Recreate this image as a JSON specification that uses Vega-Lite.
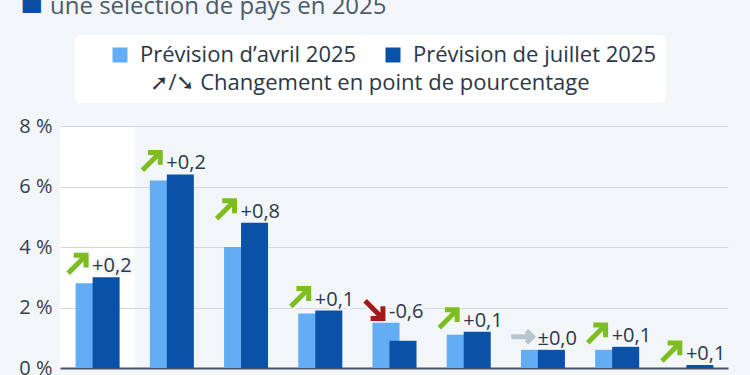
{
  "$schema": "https://vega.github.io/schema/vega-lite/v6.json",
  "width": 668,
  "height": 242,
  "autosize": {"type": "none"},
  "padding": {"left": 60, "top": 126, "right": 22, "bottom": 7},
  "background": "#f3f6f9",
  "title": {
    "text": "une sélection de pays en 2025",
    "anchor": "start",
    "frame": "group",
    "fontSize": 24,
    "font": "Open Sans",
    "fontWeight": "normal",
    "color": "#4b5a6b",
    "dx": -10,
    "dy": 52,
    "baseline": "alphabetic"
  },
  "config": {
    "font": "Open Sans",
    "view": {
      "stroke": null,
      "fill": {
        "gradient": "linear",
        "x1": 0, "x2": 1, "y1": 0, "y2": 0,
        "stops": [
          {"offset": 0, "color": "#ffffff"},
          {"offset": 0.1123, "color": "#ffffff"},
          {"offset": 0.1124, "color": "#f3f6f9"},
          {"offset": 1, "color": "#f3f6f9"}
        ]
      }
    }
  },
  "data": {
    "values": [
      {"pays": "Monde", "avril": 2.8, "juillet": 3.0, "label": "+0,2", "dir": "hausse"},
      {"pays": "Inde", "avril": 6.2, "juillet": 6.4, "label": "+0,2", "dir": "hausse"},
      {"pays": "Chine", "avril": 4.0, "juillet": 4.8, "label": "+0,8", "dir": "hausse"},
      {"pays": "États-Unis", "avril": 1.8, "juillet": 1.9, "label": "+0,1", "dir": "hausse"},
      {"pays": "Russie", "avril": 1.5, "juillet": 0.9, "label": "-0,6", "dir": "baisse"},
      {"pays": "Royaume-Uni", "avril": 1.1, "juillet": 1.2, "label": "+0,1", "dir": "hausse"},
      {"pays": "France", "avril": 0.6, "juillet": 0.6, "label": "±0,0", "dir": "stable"},
      {"pays": "Japon", "avril": 0.6, "juillet": 0.7, "label": "+0,1", "dir": "hausse"},
      {"pays": "Allemagne", "avril": 0.0, "juillet": 0.1, "label": "+0,1", "dir": "hausse"}
    ]
  },
  "transform": [
    {"calculate": "max(datum.avril, datum.juillet)", "as": "haut"}
  ],
  "encoding": {
    "x": {
      "field": "pays",
      "type": "nominal",
      "sort": null,
      "scale": {"paddingInner": 0, "paddingOuter": 0},
      "axis": {
        "title": null,
        "labels": false,
        "ticks": false,
        "domainColor": "#4a5568",
        "domainWidth": 2
      }
    }
  },
  "layer": [
    {
      "mark": {"type": "text", "align": "left", "baseline": "middle", "dx": -5, "dy": -11, "fontSize": 20, "stroke": "#f3f6f9", "strokeWidth": 6, "fill": "#f3f6f9", "strokeJoin": "round"},
      "encoding": {
        "y": {
          "field": "haut",
          "type": "quantitative",
          "scale": {"domain": [0, 8], "nice": false},
          "axis": {
            "values": [0, 1, 2, 3, 4, 5, 6, 7, 8],
            "labelExpr": "datum.value % 2 == 0 ? datum.value + ' %' : ''",
            "domain": false,
            "ticks": false,
            "gridColor": "#d2d8de",
            "gridWidth": 1,
            "labelFontSize": 20,
            "labelColor": "#333f4d",
            "labelPadding": 8,
            "title": "■",
            "titleAngle": 0,
            "titleFont": "DejaVu Sans",
            "titleFontSize": 24,
            "titleFontWeight": "normal",
            "titleColor": "#0b4ea2",
            "titleAlign": "left",
            "titleBaseline": "alphabetic",
            "titleX": -40,
            "titleY": -117
          }
        },
        "text": {"field": "label"}
      }
    },
    {
      "mark": {"type": "point", "filled": false, "xOffset": -20, "yOffset": -13, "size": 500, "strokeWidth": 9, "stroke": "#f3f6f9", "opacity": 1},
      "encoding": {
        "y": {"field": "haut", "type": "quantitative"},
        "shape": {
          "field": "dir",
          "type": "nominal",
          "scale": {
            "domain": ["hausse", "baisse", "stable"],
            "range": [
              "M -0.8 0.8 L 0.72 -0.72 M -0.3 -0.8 L 0.8 -0.8 L 0.8 0.3",
              "M -0.8 -0.8 L 0.72 0.72 M 0.8 -0.3 L 0.8 0.8 L -0.3 0.8",
              "M -1 0 L 0.9 0 M 0.35 -0.55 L 0.9 0 L 0.35 0.55"
            ]
          },
          "legend": null
        }
      }
    },
    {
      "mark": {"type": "bar", "width": {"band": 0.364}, "xOffset": -8},
      "encoding": {
        "y": {"field": "avril", "type": "quantitative"},
        "color": {
          "datum": "Prévision d’avril 2025",
          "type": "nominal",
          "scale": {
            "domain": ["Prévision d’avril 2025", "Prévision de juillet 2025"],
            "range": ["#62adf3", "#0a52a8"]
          },
          "legend": {
            "orient": "none",
            "legendX": 15,
            "legendY": -91,
            "direction": "horizontal",
            "fillColor": "#ffffff",
            "cornerRadius": 6,
            "padding": 9,
            "symbolType": "square",
            "symbolSize": 225,
            "symbolStrokeWidth": 0,
            "symbolOffset": 25,
            "columnPadding": 0,
            "labelOffset": 9,
            "labelFontSize": 22,
            "labelColor": "#2a3747",
            "labelLimit": 400,
            "title": "            ➚/➘ Changement en point de pourcentage            ",
            "titleOrient": "bottom",
            "titleAnchor": "middle",
            "titleFontSize": 22,
            "titleFontWeight": "normal",
            "titleColor": "#2a3747",
            "titlePadding": 7,
            "titleLimit": 700
          }
        }
      }
    },
    {
      "mark": {"type": "bar", "width": {"band": 0.364}, "xOffset": 9},
      "encoding": {
        "y": {"field": "juillet", "type": "quantitative"},
        "color": {"datum": "Prévision de juillet 2025", "type": "nominal"}
      }
    },
    {
      "mark": {"type": "point", "filled": false, "xOffset": -20, "yOffset": -13, "size": 500, "strokeWidth": 5, "opacity": 1, "strokeJoin": "miter", "strokeCap": "butt"},
      "encoding": {
        "y": {"field": "haut", "type": "quantitative"},
        "shape": {"field": "dir", "type": "nominal", "legend": null},
        "stroke": {
          "field": "dir",
          "type": "nominal",
          "scale": {
            "domain": ["hausse", "baisse", "stable"],
            "range": ["#7dbd22", "#a3191c", "#b7c5cf"]
          },
          "legend": null
        }
      }
    },
    {
      "mark": {"type": "text", "align": "left", "baseline": "middle", "dx": -5, "dy": -11, "fontSize": 20, "color": "#2b3848"},
      "encoding": {
        "y": {"field": "haut", "type": "quantitative"},
        "text": {"field": "label"}
      }
    }
  ]
}
